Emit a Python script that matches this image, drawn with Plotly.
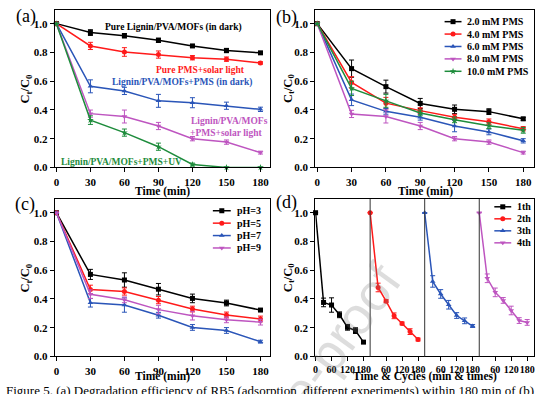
import plotly.graph_objects as go

# ---------------- data ----------------
time = [0, 30, 60, 90, 120, 150, 180]

# (a)
a_names = ["Pure Lignin/PVA/MOFs (in dark)", "Pure PMS+solar light",
           "Lignin/PVA/MOFs+PMS (in dark)", "Lignin/PVA/MOFs+PMS+solar light",
           "Lignin/PVA/MOFs+PMS+UV"]
a_dark = [1.0, 0.938, 0.916, 0.884, 0.845, 0.813, 0.797]
a_dark_err = [0, 0.02, 0.015, 0.015, 0.008, 0.015, 0.008]
a_pms_solar = [1.0, 0.845, 0.803, 0.785, 0.763, 0.753, 0.727]
a_pms_solar_err = [0, 0.025, 0.03, 0.025, 0.015, 0.015, 0.008]
a_mof_pms_dark = [1.0, 0.564, 0.532, 0.463, 0.45, 0.429, 0.404]
a_mof_pms_dark_err = [0, 0.045, 0.025, 0.045, 0.035, 0.025, 0.015]
a_mof_pms_solar = [1.0, 0.374, 0.354, 0.288, 0.2, 0.176, 0.103]
a_mof_pms_solar_err = [0, 0.025, 0.045, 0.025, 0.015, 0.015, 0.01]
a_mof_pms_uv = [1.0, 0.329, 0.242, 0.144, 0.02, 0.0, 0.0]
a_mof_pms_uv_err = [0, 0.03, 0.025, 0.025, 0.01, 0, 0]

# (b)
b_names = ["2.0 mM PMS", "4.0 mM PMS", "6.0 mM PMS", "8.0 mM PMS", "10.0 mM PMS"]
b_2 = [1.0, 0.687, 0.562, 0.445, 0.404, 0.388, 0.338]
b_2_err = [0, 0.06, 0.045, 0.035, 0.03, 0.02, 0.01]
b_4 = [1.0, 0.591, 0.447, 0.395, 0.349, 0.317, 0.269]
b_4_err = [0, 0.04, 0.04, 0.02, 0.02, 0.02, 0.015]
b_6 = [1.0, 0.47, 0.39, 0.349, 0.288, 0.247, 0.185]
b_6_err = [0, 0.04, 0.02, 0.02, 0.04, 0.02, 0.015]
b_8 = [1.0, 0.372, 0.354, 0.288, 0.2, 0.176, 0.103]
b_8_err = [0, 0.025, 0.045, 0.025, 0.015, 0.015, 0.01]
b_10 = [1.0, 0.55, 0.463, 0.379, 0.331, 0.29, 0.258]
b_10_err = [0, 0.05, 0.045, 0.02, 0.02, 0.02, 0.02]

# (c)
c_names = ["pH=3", "pH=5", "pH=7", "pH=9"]
c_3 = [1.0, 0.571, 0.532, 0.468, 0.404, 0.372, 0.323]
c_3_err = [0, 0.035, 0.05, 0.04, 0.03, 0.02, 0.01]
c_5 = [1.0, 0.466, 0.452, 0.392, 0.33, 0.289, 0.261]
c_5_err = [0, 0.03, 0.025, 0.025, 0.02, 0.02, 0.02]
c_7 = [1.0, 0.374, 0.358, 0.287, 0.202, 0.181, 0.103]
c_7_err = [0, 0.03, 0.05, 0.02, 0.02, 0.02, 0.01]
c_9 = [1.0, 0.433, 0.394, 0.326, 0.284, 0.255, 0.239]
c_9_err = [0, 0.03, 0.02, 0.03, 0.03, 0.02, 0.02]

# (d)
d_names = ["1th", "2th", "3th", "4th"]
d_offsets = [0, 205, 410, 615]
d_1 = [1.0, 0.376, 0.358, 0.29, 0.203, 0.18, 0.10]
d_1_err = [0, 0.03, 0.05, 0.02, 0.02, 0.02, 0.01]
d_2 = [1.0, 0.48, 0.385, 0.283, 0.23, 0.173, 0.118]
d_2_err = [0, 0.03, 0.01, 0.02, 0.01, 0.02, 0.01]
d_3 = [1.0, 0.522, 0.435, 0.36, 0.285, 0.248, 0.212]
d_3_err = [0, 0.04, 0.03, 0.03, 0.02, 0.02, 0.01]
d_4 = [1.0, 0.544, 0.446, 0.39, 0.32, 0.25, 0.237]
d_4_err = [0, 0.03, 0.03, 0.02, 0.03, 0.02, 0.02]
d_tick_minutes = [60, 120, 180]

# ---------------- style ----------------
W, H = 554, 394
SERIF = "Liberation Serif"
BLACK = "#000000"
RED = "#FF1A1A"
BLUE = "#2A55B8"
PURPLE = "#BE55C0"
GREEN = "#1E8C3C"

SYM = {BLACK: "square", RED: "circle", BLUE: "triangle-up",
       PURPLE: "triangle-down", GREEN: "star"}


def px_x(p):
    return p / W


def px_y(p):
    return 1 - p / H


fig = go.Figure()


def add_series(xs, ys, err, color, ax):
    fig.add_trace(go.Scatter(
        x=xs, y=ys, mode="lines+markers",
        line=dict(color=color, width=1.5),
        marker=dict(symbol=SYM[color], size=5, color=color),
        error_y=dict(type="data", array=err, visible=True, color=color,
                     thickness=1, width=2.5),
        xaxis="x" + ax, yaxis="y" + ax, showlegend=False, cliponaxis=False))


# panel a -> axis 2
for ys, er, c in [(a_dark, a_dark_err, BLACK), (a_pms_solar, a_pms_solar_err, RED),
                  (a_mof_pms_dark, a_mof_pms_dark_err, BLUE),
                  (a_mof_pms_solar, a_mof_pms_solar_err, PURPLE),
                  (a_mof_pms_uv, a_mof_pms_uv_err, GREEN)]:
    add_series(time, ys, er, c, "2")

b_series = [(b_2, b_2_err, BLACK), (b_4, b_4_err, RED), (b_6, b_6_err, BLUE),
            (b_8, b_8_err, PURPLE), (b_10, b_10_err, GREEN)]
for ys, er, c in b_series:
    add_series(time, ys, er, c, "3")

c_series = [(c_3, c_3_err, BLACK), (c_5, c_5_err, RED), (c_7, c_7_err, BLUE),
            (c_9, c_9_err, PURPLE)]
for ys, er, c in c_series:
    add_series(time, ys, er, c, "4")

d_series = [(d_1, d_1_err, BLACK), (d_2, d_2_err, RED), (d_3, d_3_err, BLUE),
            (d_4, d_4_err, PURPLE)]
for (ys, er, c), off in zip(d_series, d_offsets):
    add_series([t + off for t in time], ys, er, c, "5")

# ---------------- manual legends on a pixel overlay axis ----------------
annotations = []


def legend(names, series, x0, x1, y0, dy):
    for i, (nm, (_, _, c)) in enumerate(zip(names, series)):
        yy = y0 + i * dy
        fig.add_trace(go.Scatter(
            x=[x0, x1], y=[yy, yy], mode="lines",
            line=dict(color=c, width=1.5),
            xaxis="x", yaxis="y", showlegend=False, hoverinfo="skip"))
        fig.add_trace(go.Scatter(
            x=[(x0 + x1) / 2], y=[yy], mode="markers",
            marker=dict(symbol=SYM[c], size=5, color=c),
            xaxis="x", yaxis="y", showlegend=False, hoverinfo="skip"))
        annotations.append(dict(
            x=x1 + 4, y=yy, xref="x", yref="y", text="<b>%s</b>" % nm,
            showarrow=False, xanchor="left", yanchor="middle",
            font=dict(family=SERIF, size=10, color="black")))


legend(b_names, b_series, 445, 462, 22, 12.6)
legend(c_names, c_series, 212, 230, 214, 12.6)
legend(d_names, d_series, 495, 512, 210, 12.2)

# ---------------- axes ----------------
tickfont = dict(family=SERIF, size=11, color="black", weight="bold")


def xax(dom, rng, anchor, tickvals, ticktext=None, font=tickfont):
    d = dict(domain=dom, range=rng, anchor=anchor, showline=True, mirror=True,
             linecolor="black", linewidth=1, ticks="outside", ticklen=4,
             tickwidth=1, tickcolor="black", tickvals=tickvals, showgrid=False,
             zeroline=False, tickfont=font, fixedrange=True, tickangle=0)
    if ticktext is not None:
        d["ticktext"] = ticktext
    return d


def yax(dom, anchor):
    return dict(domain=dom, range=[0, 1.096], anchor=anchor, showline=True,
                mirror=True, linecolor="black", linewidth=1, ticks="outside",
                ticklen=4, tickwidth=1, tickcolor="black",
                tickvals=[0, 0.2, 0.4, 0.6, 0.8, 1.0], tickformat=".1f",
                showgrid=False, zeroline=False, tickfont=tickfont, fixedrange=True)


xl = [px_x(53), px_x(269)]
xr = [px_x(315), px_x(535)]
yt = [px_y(170), px_y(10)]
yb = [px_y(362), px_y(202)]

d_tickvals = [0] + [m for m in d_tick_minutes]
d_ticktext = ["0"] + [str(m) for m in d_tick_minutes]
for off in d_offsets[1:]:
    d_tickvals += [off + m for m in d_tick_minutes]
    d_ticktext += [str(m) for m in d_tick_minutes]

layout = dict(
    width=W, height=H, margin=dict(l=0, r=0, t=0, b=0),
    paper_bgcolor="white", plot_bgcolor="rgba(0,0,0,0)",
    xaxis=dict(domain=[0, 1], range=[0, W], visible=False, fixedrange=True),
    yaxis=dict(domain=[0, 1], range=[H, 0], visible=False, fixedrange=True),
    xaxis2=xax(xl, [-1.5, 188], "y2", time),
    yaxis2=yax(yt, "x2"),
    xaxis3=xax(xr, [-1.7, 189.5], "y3", time),
    yaxis3=yax(yt, "x3"),
    xaxis4=xax(xl, [-1.5, 188], "y4", time),
    yaxis4=yax(yb, "x4"),
    xaxis5=xax(xr, [-1, 821], "y5", d_tickvals, d_ticktext,
               dict(family=SERIF, size=10, color="black", weight="bold")),
    yaxis5=yax(yb, "x5"),
    showlegend=False,
)

# vertical separators in (d)
shapes = []
for off in d_offsets[1:]:
    shapes.append(dict(type="line", xref="x5", yref="y5 domain", x0=off, x1=off,
                       y0=0, y1=1, line=dict(color="#333333", width=1)))
layout["shapes"] = shapes


def ann(x, y, text, size=10, color="black", angle=0, bold=True, family=SERIF,
        xanchor="center"):
    annotations.append(dict(
        x=x, y=y, xref="x", yref="y", text=("<b>%s</b>" % text) if bold else text,
        showarrow=False, textangle=angle, xanchor=xanchor, yanchor="middle",
        font=dict(family=family, size=size, color=color)))


# panel (a) curve labels
ann(172, 28, "Pure Lignin/PVA/MOFs (in dark)", 9.5, BLACK)
ann(200, 71, "Pure PMS+solar light", 9.5, RED)
ann(181, 84, "Lignin/PVA/MOFs+PMS (in dark)", 9.5, BLUE)
ann(229, 123, "Lignin/PVA/MOFs", 9.5, PURPLE)
ann(225, 135, "+PMS+solar light", 9.5, PURPLE)
ann(120, 164, "Lignin/PVA/MOFs+PMS+UV", 9.5, GREEN)

# panel letters
ann(24, 17, "(a)", 18, bold=False)
ann(286, 18, "(b)", 18, bold=False)
ann(23, 208, "(c)", 18, bold=False)
ann(286, 206, "(d)", 18, bold=False)

# axis titles
for x, y in [(24, 90), (288, 90), (24, 282), (288, 282)]:
    ann(x, y, "C<sub>t</sub>/C<sub>0</sub>", 12.5, angle=-90)
ann(161, 194, "Time (min)", 11.5)
ann(426, 194, "Time (min)", 11.5)
ann(161, 382, "Time (min)", 11.5)
ann(425, 382, "Time & Cycles (min & times)", 11.5)

# watermark (paper-referenced so it can hang past the bottom edge)
annotations.append(dict(
    x=270 / W, y=1 - 440 / H, xref="paper", yref="paper",
    xanchor="center", yanchor="middle",
    text="Journal Pre-proof", showarrow=False, textangle=-54,
    font=dict(family="Liberation Sans", size=52,
              color="rgba(120,120,120,0.25)")))

# caption (cut off at the bottom of the picture)
annotations.append(dict(
    x=2 / W, y=1 - 387 / H, xref="paper", yref="paper", xanchor="left",
    yanchor="top",
    text="Figure 5. (a) Degradation efficiency of RB5 (adsorption, different experiments) within 180 min of (b)",
    showarrow=False, font=dict(family=SERIF, size=13, color="black")))

layout["annotations"] = annotations
fig.update_layout(**layout)
fig.write_html("out.html", config={"displayModeBar": False},
               post_script="document.body.style.margin='0';"
                           "document.body.style.overflow='hidden';")
